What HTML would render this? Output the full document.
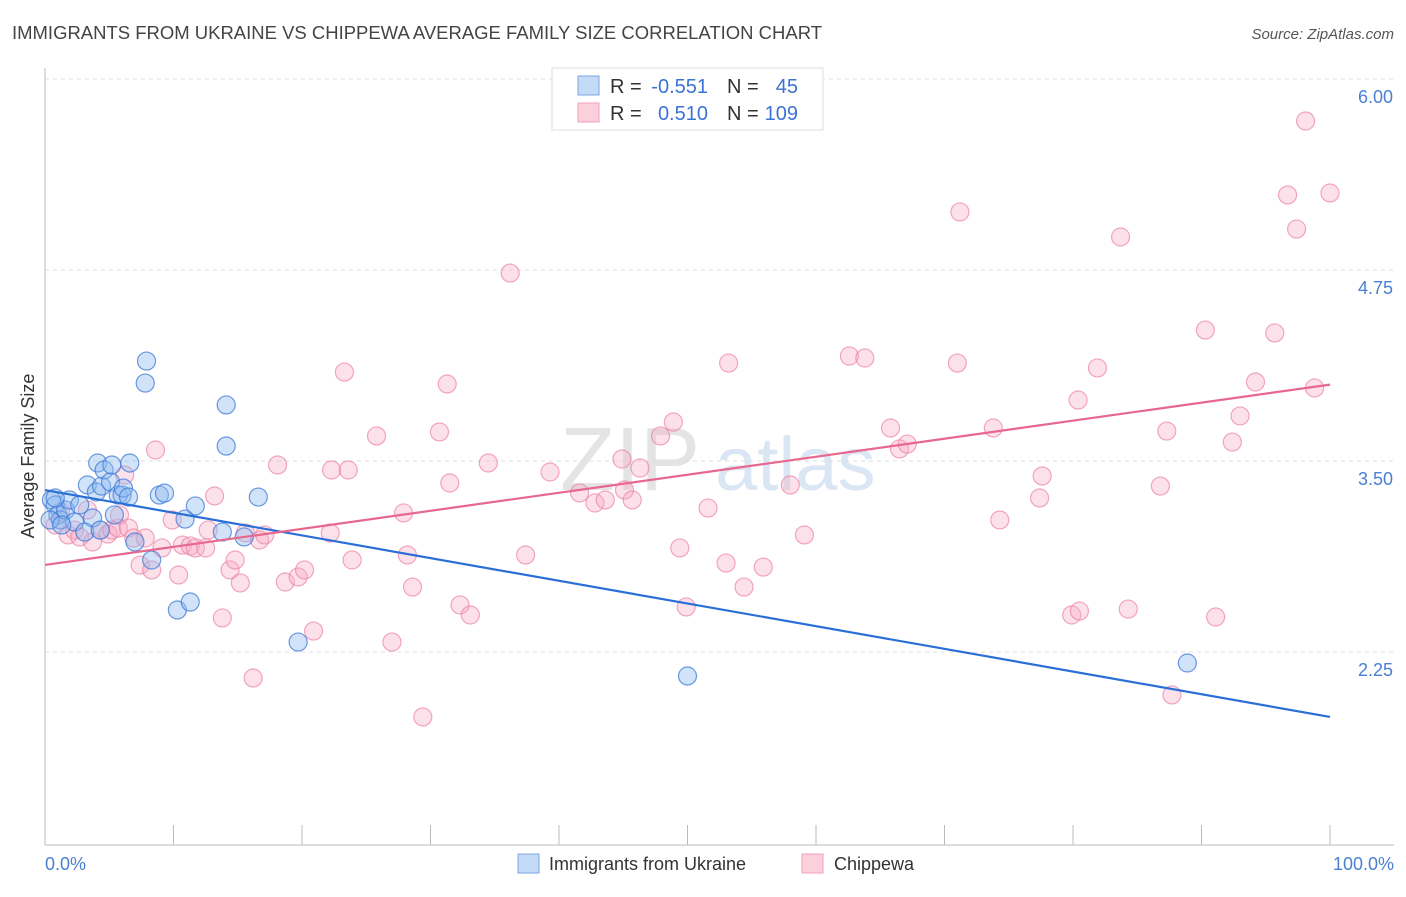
<!DOCTYPE html>
<html><head><meta charset="utf-8"><style>
body{margin:0;background:#fff;font-family:"Liberation Sans",sans-serif}
svg text{font-family:"Liberation Sans",sans-serif}
</style></head><body>
<svg id="c" width="1406" height="892">
<text x="12" y="39" font-size="18.5" fill="#444" textLength="810" lengthAdjust="spacingAndGlyphs">IMMIGRANTS FROM UKRAINE VS CHIPPEWA AVERAGE FAMILY SIZE CORRELATION CHART</text>
<text x="1394" y="39" font-size="15" fill="#555" font-style="italic" text-anchor="end">Source: ZipAtlas.com</text>
<text x="560" y="490" font-size="90" fill="#e4e4e4" font-family="Liberation Serif">ZIP</text>
<text x="715" y="490" font-size="76" fill="#dbe6f4">atlas</text>
<text x="34" y="456" font-size="18" fill="#333" text-anchor="middle" transform="rotate(-90 34 456)">Average Family Size</text>
<text x="45" y="870" font-size="18" fill="#4a7fd4">0.0%</text>
<text x="1394" y="870" font-size="18" fill="#4a7fd4" text-anchor="end">100.0%</text>
<g id="grid"></g><g id="pts"></g><g id="lines"></g>
<g font-size="20">
<rect x="552" y="68" width="271" height="62" fill="#fff" stroke="#ddd"/>
<rect x="578" y="76" width="21" height="19" fill="#c5daf6" stroke="#7aa6e6"/>
<rect x="578" y="103" width="21" height="19" fill="#fbd0dc" stroke="#f0a0b8"/>
<text x="610" y="93" fill="#333">R =</text>
<text x="708" y="93" fill="#3b73d4" text-anchor="end">-0.551</text>
<text x="727" y="93" fill="#333">N =</text>
<text x="798" y="93" fill="#3b73d4" text-anchor="end">45</text>
<text x="610" y="120" fill="#333">R =</text>
<text x="708" y="120" fill="#3b73d4" text-anchor="end">0.510</text>
<text x="727" y="120" fill="#333">N =</text>
<text x="798" y="120" fill="#3b73d4" text-anchor="end">109</text>
</g>
<g>
<rect x="518" y="854" width="21" height="19" fill="#c5daf6" stroke="#7aa6e6"/>
<text x="549" y="870" font-size="18" fill="#333">Immigrants from Ukraine</text>
<rect x="802" y="854" width="21" height="19" fill="#fbd0dc" stroke="#f0a0b8"/>
<text x="834" y="870" font-size="18" fill="#333">Chippewa</text>
</g>
</svg>
<script>
const yTicks=[6.00,4.75,3.50,2.25];
const blueX=[0.5,0.8,1.0,1.2,1.6,1.9,2.3,2.7,3.3,3.7,4.0,4.1,4.4,4.6,5.1,5.2,5.4,5.7,6.0,6.1,6.5,6.6,7.0,7.8,7.9,8.3,8.9,9.3,10.3,10.9,11.3,11.7,13.8,14.1,14.1,15.5,16.6,19.7,50.0,88.9,0.4,1.3,0.8,3.1,4.3];
const blueY=[3.245,3.212,3.147,3.114,3.179,3.245,3.101,3.212,3.343,3.127,3.297,3.487,3.336,3.441,3.363,3.474,3.147,3.277,3.277,3.323,3.264,3.487,2.970,4.010,4.154,2.852,3.277,3.290,2.525,3.120,2.577,3.206,3.035,3.867,3.598,3.003,3.264,2.315,2.093,2.178,3.114,3.081,3.258,3.035,3.048];
const pinkX=[0.8,1.2,1.8,2.3,2.7,3.3,3.7,4.3,4.9,5.2,5.7,5.8,6.2,6.5,6.9,7.4,7.8,8.3,8.6,9.1,9.9,10.4,10.7,11.3,11.7,12.5,12.7,13.2,13.8,14.4,14.8,15.2,15.6,16.2,16.7,17.1,18.1,18.7,19.7,20.2,20.9,22.2,22.3,23.3,23.6,23.9,25.8,27.0,27.9,28.2,28.6,29.4,30.7,31.3,31.5,32.3,33.1,34.5,36.2,37.4,39.3,41.6,42.8,43.6,44.9,45.1,45.7,46.3,47.9,48.9,49.4,49.9,51.6,53.0,53.2,54.4,55.9,58.0,59.1,62.6,63.8,65.8,66.5,67.1,71.0,71.2,73.8,74.3,77.4,77.6,79.9,80.4,80.5,81.9,83.7,84.3,86.8,87.3,87.7,90.3,91.1,92.4,93.0,94.2,95.7,96.7,97.4,98.1,98.8,100];
const pinkY=[3.081,3.166,3.016,3.048,3.003,3.179,2.970,3.048,3.022,3.048,3.061,3.147,3.408,3.061,2.996,2.819,2.996,2.787,3.572,2.931,3.114,2.754,2.950,2.944,2.931,2.931,3.048,3.271,2.473,2.787,2.852,2.702,3.029,2.080,2.983,3.016,3.474,2.708,2.741,2.787,2.387,3.029,3.441,4.082,3.441,2.852,3.664,2.315,3.160,2.885,2.675,1.825,3.690,4.004,3.356,2.558,2.492,3.487,4.730,2.885,3.428,3.291,3.225,3.245,3.513,3.310,3.245,3.454,3.664,3.755,2.931,2.545,3.192,2.832,4.141,2.675,2.806,3.343,3.016,4.187,4.174,3.716,3.579,3.611,4.141,5.130,3.716,3.114,3.258,3.402,2.492,3.899,2.518,4.109,4.966,2.531,3.336,3.696,1.969,4.357,2.479,3.624,3.795,4.017,4.338,5.241,5.018,5.725,3.978,5.254];
const blueLine=[3.31,1.825];
const pinkLine=[2.82,4.0];
const X0=45,X1=1330,Y6=79,PPU=152.8;
const sx=v=>X0+(X1-X0)*v/100;
const sy=v=>Y6+(6-v)*PPU;
const NS="http://www.w3.org/2000/svg";
function mk(tag,attrs,parent){const e=document.createElementNS(NS,tag);for(const k in attrs)e.setAttribute(k,attrs[k]);parent.appendChild(e);return e;}
const grid=document.getElementById('grid');
mk('line',{x1:45,y1:68,x2:45,y2:845,stroke:'#bbb'},grid);
mk('line',{x1:45,y1:845,x2:1394,y2:845,stroke:'#bbb'},grid);
yTicks.forEach(t=>{
 const g=mk('line',{x1:45,y1:sy(t),x2:1394,y2:sy(t),stroke:'#ddd','stroke-dasharray':'4,4'},grid);
 
 
 const tx=mk('text',{x:1393,y:sy(t)+24,'font-size':18,fill:'#4a7fd4','text-anchor':'end'},grid);
 tx.textContent=t.toFixed(2);
 
 
});
for(let i=0;i<=10;i++){
 const t=mk('line',{x1:sx(i*10),y1:825,x2:sx(i*10),y2:845,stroke:'#bbb'},grid);
 
 
}
const pts=document.getElementById('pts');
pinkX.forEach((x,i)=>{
 const c=mk('circle',{cx:sx(x),cy:sy(pinkY[i]),r:9,fill:'rgba(246,170,195,0.35)',stroke:'rgba(236,130,165,0.7)','stroke-width':1.2},pts);
 
 
});
blueX.forEach((x,i)=>{
 const c=mk('circle',{cx:sx(x),cy:sy(blueY[i]),r:9,fill:'rgba(140,185,240,0.4)',stroke:'rgba(60,120,215,0.75)','stroke-width':1.2},pts);
 
 
});
const lines=document.getElementById('lines');
const bl=mk('line',{x1:sx(0),y1:sy(blueLine[0]),x2:sx(100),y2:sy(blueLine[1]),stroke:'#2a6fd6','stroke-width':2.2},lines);


const pl=mk('line',{x1:sx(0),y1:sy(pinkLine[0]),x2:sx(100),y2:sy(pinkLine[1]),stroke:'#e8678f','stroke-width':2.2},lines);


</script>
</body></html>
